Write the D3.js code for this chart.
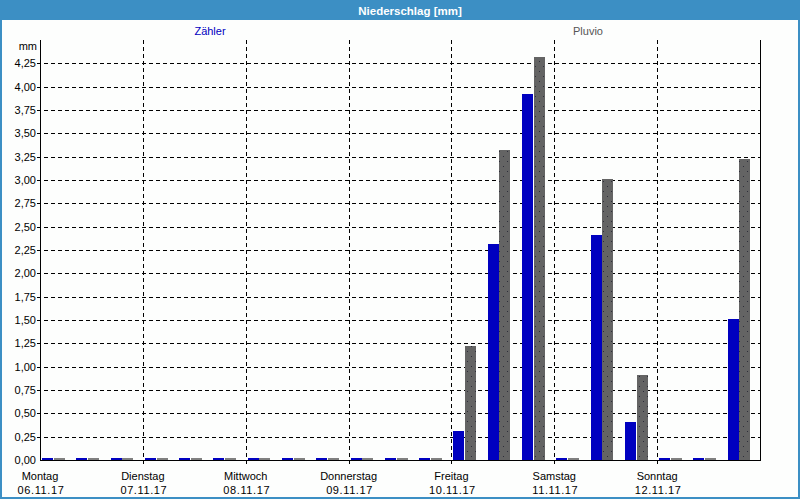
<!DOCTYPE html>
<html>
<head>
<meta charset="utf-8">
<script src="https://cdn.jsdelivr.net/npm/d3@7"></script>
<style>
  html, body { margin: 0; padding: 0; background: #fff; }
  svg { display: block; font-family: "Liberation Sans", Arial, sans-serif; }
</style>
</head>
<body>
<svg id="chart" width="800" height="500"></svg>
<script>
// ---- data ----
const title = "Niederschlag [mm]";
const unitLabel = "mm";
const seriesNames = ["Zähler", "Pluvio"];
const dayNames = ["Montag", "Dienstag", "Mittwoch", "Donnerstag", "Freitag", "Samstag", "Sonntag"];
const dayDates = ["06.11.17", "07.11.17", "08.11.17", "09.11.17", "10.11.17", "11.11.17", "12.11.17"];
// three 8-hour intervals per day
const zaehler = [0, 0, 0,  0, 0, 0,  0, 0, 0,  0, 0, 0,  0.31, 2.31, 3.92,  0, 2.41, 0.41,  0, 0, 1.51];
const pluvio  = [0, 0, 0,  0, 0, 0,  0, 0, 0,  0, 0, 0,  1.22, 3.32, 4.32,  0, 3.01, 0.91,  0, 0, 3.22];
const yTicks = [0, 0.25, 0.5, 0.75, 1, 1.25, 1.5, 1.75, 2, 2.25, 2.5, 2.75, 3, 3.25, 3.5, 3.75, 4, 4.25];

// ---- layout ----
const svg = d3.select("#chart");
const W = 800, H = 500;
const pLeft = 40, pRight = 760, pTop = 40, pBottom = 460;
const blue = "#0000c0", grey = "#646464", frame = "#3c8fc4";

const x = d3.scaleLinear().domain([0, zaehler.length]).range([pLeft, pRight]);
const y = d3.scaleLinear().domain([0, 4.5]).range([pBottom, pTop]);
const inner = d3.scaleBand().domain(seriesNames).range([2, 25]).paddingInner(1 / 23);

// pattern for grey bars
const defs = svg.append("defs");
const pat = defs.append("pattern").attr("id", "dots").attr("patternUnits", "userSpaceOnUse")
  .attr("width", 8).attr("height", 10);
pat.append("rect").attr("width", 8).attr("height", 10).attr("fill", grey);
pat.append("rect").attr("x", 3).attr("y", 1).attr("width", 1).attr("height", 1).attr("fill", "#2e2e3a");
pat.append("rect").attr("x", 7).attr("y", 6).attr("width", 1).attr("height", 1).attr("fill", "#2e2e3a");

// background + frame
svg.append("rect").attr("width", W).attr("height", H).attr("fill", "#fdfefd");
svg.append("rect").attr("x", 1).attr("y", 1).attr("width", W - 2).attr("height", H - 3)
  .attr("fill", "none").attr("stroke", frame).attr("stroke-width", 2);
svg.append("rect").attr("x", 0).attr("y", 0).attr("width", W).attr("height", 20).attr("fill", frame);
svg.append("text").attr("x", 410).attr("y", 14.5).attr("text-anchor", "middle")
  .attr("fill", "#fff").attr("font-size", 11.5).attr("font-weight", "bold").text(title);

// legend
svg.append("text").attr("x", 210).attr("y", 35).attr("text-anchor", "middle")
  .attr("font-size", 11).attr("fill", blue).text(seriesNames[0]);
svg.append("text").attr("x", 588).attr("y", 35).attr("text-anchor", "middle")
  .attr("font-size", 11).attr("fill", "#555").text(seriesNames[1]);

// horizontal grid
const g = svg.append("g");
g.selectAll("line.hg").data(yTicks.filter(v => v > 0)).join("line")
  .attr("x1", pLeft - 3).attr("x2", pRight)
  .attr("y1", d => Math.round(y(d)) + 0.5).attr("y2", d => Math.round(y(d)) + 0.5)
  .attr("stroke", "#000").attr("stroke-dasharray", "4,3").attr("shape-rendering", "crispEdges");

// vertical grid at day boundaries
const dayIdx = d3.range(1, dayNames.length);
g.selectAll("line.vg").data(dayIdx).join("line")
  .attr("x1", d => Math.round(x(d * 3)) + 0.5).attr("x2", d => Math.round(x(d * 3)) + 0.5)
  .attr("y1", pTop).attr("y2", pBottom + 4)
  .attr("stroke", "#000").attr("stroke-dasharray", "4,3").attr("shape-rendering", "crispEdges");

// bars
const bars = svg.append("g");
const minH = 2;
bars.selectAll("rect.z").data(zaehler).join("rect")
  .attr("x", (d, i) => Math.round(x(i) + inner(seriesNames[0])))
  .attr("width", Math.round(inner.bandwidth()))
  .attr("y", d => Math.min(y(d), pBottom - minH))
  .attr("height", d => Math.max(pBottom - y(d), minH))
  .attr("fill", blue).attr("shape-rendering", "crispEdges");
bars.selectAll("rect.p").data(pluvio).join("rect")
  .attr("x", (d, i) => Math.round(x(i) + inner(seriesNames[1])))
  .attr("width", Math.round(inner.bandwidth()))
  .attr("y", d => Math.min(y(d), pBottom - minH))
  .attr("height", d => Math.max(pBottom - y(d), minH))
  .attr("fill", d => d > 0 ? "url(#dots)" : "#808080").attr("shape-rendering", "crispEdges");

// axes lines
const ax = svg.append("g").attr("shape-rendering", "crispEdges");
ax.append("line").attr("x1", pLeft + 0.5).attr("x2", pLeft + 0.5).attr("y1", pTop).attr("y2", pBottom + 1).attr("stroke", "#000");
ax.append("line").attr("x1", pRight + 0.5).attr("x2", pRight + 0.5).attr("y1", pTop).attr("y2", pBottom + 1).attr("stroke", "#000");
ax.append("line").attr("x1", pLeft).attr("x2", pRight + 1).attr("y1", pBottom + 0.5).attr("y2", pBottom + 0.5).attr("stroke", "#000");

// y labels
const fmt = v => d3.format(".2f")(v).replace(".", ",");
svg.append("g").selectAll("text").data(yTicks).join("text")
  .attr("x", 36).attr("y", d => y(d) + 4).attr("text-anchor", "end")
  .attr("font-size", 11).attr("fill", "#000").text(fmt);
svg.append("text").attr("x", 37).attr("y", 50).attr("text-anchor", "end")
  .attr("font-size", 11).attr("fill", "#000").text(unitLabel);

// x labels
const xl = svg.append("g");
xl.selectAll("text.d").data(dayNames).join("text")
  .attr("x", (d, i) => x(i * 3)).attr("y", 480).attr("text-anchor", "middle")
  .attr("font-size", 11).attr("fill", "#000").text(d => d);
xl.selectAll("text.dt").data(dayDates).join("text")
  .attr("x", (d, i) => x(i * 3) + 1).attr("y", 494).attr("text-anchor", "middle")
  .attr("font-size", 11).attr("fill", "#000").attr("letter-spacing", 0.6).text(d => d);
</script>
</body>
</html>
